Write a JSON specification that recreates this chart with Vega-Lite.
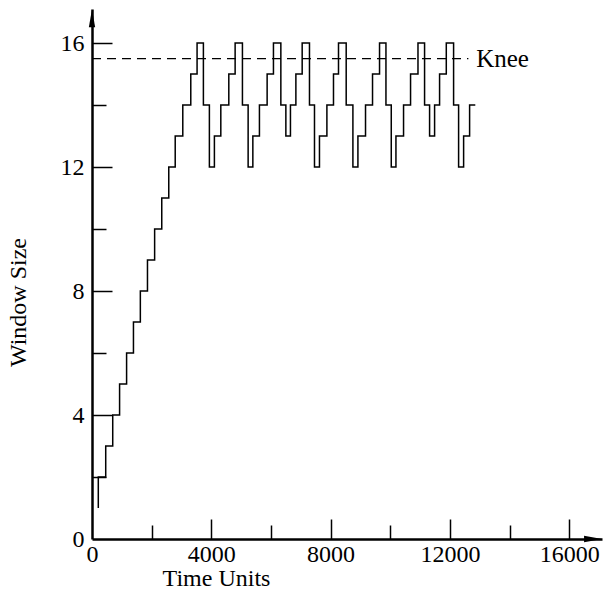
{
  "$schema": "https://vega.github.io/schema/vega-lite/v6.json",
  "width": 510,
  "height": 530,
  "autosize": "none",
  "padding": {"left": 92, "top": 9, "right": 8, "bottom": 57},
  "background": "white",
  "config": {
    "view": {"stroke": null},
    "axis": {"grid": false, "labelFont": "Liberation Serif", "titleFont": "Liberation Serif", "labelFontSize": 24, "titleFontSize": 24, "titleFontWeight": "normal", "labelColor": "black", "titleColor": "black", "domainColor": "black", "tickColor": "black"}
  },
  "datasets": {
    "steps": [
      {"t": 211, "w": 1}, {"t": 211, "w": 2}, {"t": 460, "w": 3}, {"t": 695, "w": 4}, {"t": 925, "w": 5},
      {"t": 1160, "w": 6}, {"t": 1390, "w": 7}, {"t": 1621, "w": 8}, {"t": 1860, "w": 9}, {"t": 2100, "w": 10},
      {"t": 2339, "w": 11}, {"t": 2574, "w": 12}, {"t": 2790, "w": 13}, {"t": 3044, "w": 14}, {"t": 3312, "w": 15},
      {"t": 3523, "w": 16}, {"t": 3735, "w": 14}, {"t": 3936, "w": 12}, {"t": 4104, "w": 13}, {"t": 4319, "w": 14},
      {"t": 4587, "w": 15}, {"t": 4799, "w": 16}, {"t": 5044, "w": 14}, {"t": 5235, "w": 12}, {"t": 5393, "w": 13},
      {"t": 5614, "w": 14}, {"t": 5872, "w": 15}, {"t": 6084, "w": 16}, {"t": 6332, "w": 14}, {"t": 6500, "w": 13},
      {"t": 6654, "w": 14}, {"t": 6836, "w": 15}, {"t": 7047, "w": 16}, {"t": 7292, "w": 14}, {"t": 7460, "w": 12},
      {"t": 7627, "w": 13}, {"t": 7876, "w": 14}, {"t": 8097, "w": 15}, {"t": 8265, "w": 16}, {"t": 8523, "w": 14},
      {"t": 8748, "w": 12}, {"t": 8916, "w": 13}, {"t": 9171, "w": 14}, {"t": 9406, "w": 15}, {"t": 9641, "w": 16},
      {"t": 9856, "w": 14}, {"t": 10034, "w": 12}, {"t": 10191, "w": 13}, {"t": 10446, "w": 14}, {"t": 10681, "w": 15},
      {"t": 10930, "w": 16}, {"t": 11151, "w": 14}, {"t": 11319, "w": 13}, {"t": 11487, "w": 14}, {"t": 11654, "w": 15},
      {"t": 11879, "w": 16}, {"t": 12124, "w": 14}, {"t": 12292, "w": 12}, {"t": 12460, "w": 13}, {"t": 12661, "w": 14},
      {"t": 12852, "w": 14}
    ],
    "knee": [{"t": 0, "t2": 12620, "w": 15.5, "label": "Knee", "tl": 12880}],
    "xarrow": [{"t": 16800, "w": 0}],
    "yarrow": [{"t": 0, "w": 16.8}]
  },
  "layer": [
    {
      "data": {"name": "steps"},
      "mark": {"type": "line", "interpolate": "step-after", "color": "black", "strokeWidth": 1.5},
      "encoding": {
        "x": {"field": "t", "type": "quantitative", "scale": {"domain": [0, 17100], "nice": false, "zero": true},
              "axis": {"orient": "bottom", "title": "Time Units", "values": [0, 4000, 8000, 12000, 16000], "format": "d", "ticks": false, "domainWidth": 2.5, "labelPadding": 3, "titlePadding": 0, "titleX": 124, "labelFlush": false, "labelOverlap": false}},
        "y": {"field": "w", "type": "quantitative", "scale": {"domain": [0, 17.1], "nice": false},
              "axis": {"orient": "left", "title": "Window Size", "values": [0, 4, 8, 12, 16], "format": "d", "ticks": false, "domainWidth": 2.5, "labelPadding": 8, "titlePadding": 30, "titleY": 293, "labelFlush": false, "labelOverlap": false}},
        "order": {"value": null}
      }
    },
    {
      "data": {"name": "knee"},
      "mark": {"type": "rule", "color": "black", "strokeWidth": 1.2, "strokeDash": [9, 6]},
      "encoding": {
        "x": {"field": "t", "type": "quantitative",
              "axis": {"orient": "bottom", "title": null, "values": [4000, 8000, 12000, 16000], "labels": false, "domain": false, "tickSize": -20, "tickWidth": 1.5}},
        "x2": {"field": "t2"},
        "y": {"field": "w", "type": "quantitative",
              "axis": {"orient": "left", "title": null, "values": [4, 8, 12, 16], "labels": false, "domain": false, "tickSize": -20, "tickWidth": 1.5}}
      }
    },
    {
      "data": {"name": "knee"},
      "mark": {"type": "text", "align": "left", "baseline": "middle", "font": "Liberation Serif", "fontSize": 25, "color": "black"},
      "encoding": {
        "x": {"field": "tl", "type": "quantitative", "axis": null},
        "y": {"field": "w", "type": "quantitative", "axis": null},
        "text": {"field": "label"}
      }
    },
    {
      "data": {"name": "xarrow"},
      "mark": {"type": "point", "shape": "M1,0L-1,-0.35L-1,0.35Z", "size": 324, "filled": true, "color": "black", "opacity": 1},
      "encoding": {
        "x": {"field": "t", "type": "quantitative",
              "axis": {"orient": "bottom", "title": null, "values": [2000, 6000, 10000, 14000], "labels": false, "domain": false, "tickSize": -14, "tickWidth": 1.5}},
        "y": {"field": "w", "type": "quantitative",
              "axis": {"orient": "left", "title": null, "values": [2, 6, 10, 14], "labels": false, "domain": false, "tickSize": -14, "tickWidth": 1.5}}
      }
    },
    {
      "data": {"name": "yarrow"},
      "mark": {"type": "point", "shape": "M0,-1L0.35,1L-0.35,1Z", "size": 324, "filled": true, "color": "black", "opacity": 1},
      "encoding": {
        "x": {"field": "t", "type": "quantitative", "axis": null},
        "y": {"field": "w", "type": "quantitative", "axis": null}
      }
    }
  ],
  "resolve": {"axis": {"x": "independent", "y": "independent"}}
}
